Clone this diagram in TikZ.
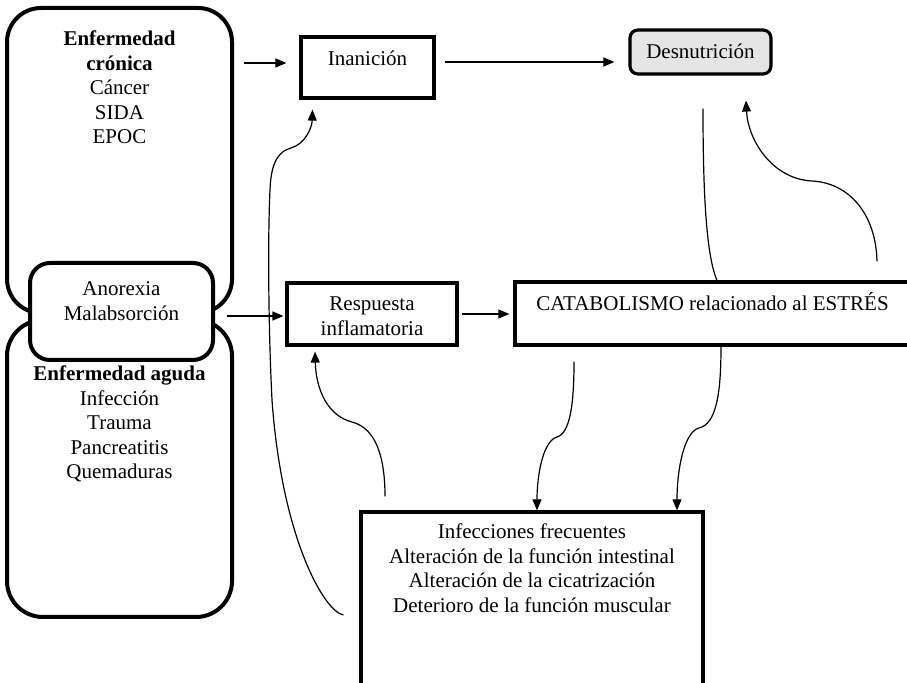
\documentclass[tikz,border=0pt]{standalone}
\usepackage{fontspec}
\setmainfont{Liberation Serif}
\usetikzlibrary{arrows.meta,calc}
\newcommand{\BoxText}[4]{\parbox[c][#2][t]{#1}{\centering\rule{0pt}{#3}#4}}

\begin{document}
\begin{tikzpicture}[x=0.5pt,y=-0.5pt]
      \tikzset{
      BoxStyle/.style = {draw, line width=1.6pt, inner sep=0pt, fill=white,
        font=\fontsize{10.5}{12.25}\selectfont},
      RoundStyle/.style = {BoxStyle, line width=2pt, rounded corners=#1},
      EdgeStyle/.style = {line width=0.6pt, -{Triangle[length=5.5pt,width=4.5pt]}} }
      \useasboundingbox (0,0) rectangle (907,683);
      \clip (0,0) rectangle (907,683);

      \node[RoundStyle=17pt] (cronica) at (119.5,160.5)
        {\BoxText{112.5pt}{152.5pt}{19pt}{\textbf{Enfermedad}\\ \textbf{crónica}\\ Cáncer\\ SIDA\\ EPOC}};
      \node[RoundStyle=18pt] (aguda) at (119.5,468.5)
        {\BoxText{112.5pt}{148.5pt}{30.5pt}{\textbf{Enfermedad aguda}\\ Infección\\ Trauma\\ Pancreatitis\\ Quemaduras}};
      \node[RoundStyle=10pt] (anorexia) at (121.5,311.5)
        {\BoxText{91.5pt}{48.5pt}{16.5pt}{Anorexia\\ Malabsorción}};

      \node[BoxStyle] (inan) at (367.5,67.5)
        {\BoxText{66.5pt}{30.5pt}{14.5pt}{Inanición}};
      \node[RoundStyle=4pt, line width=1.6pt, fill=gray!20] (desn) at (700.5,52)
        {\BoxText{70.5pt}{22pt}{14.5pt}{Desnutrición}};
      \node[BoxStyle] (resp) at (372,314)
        {\BoxText{85pt}{31pt}{14pt}{Respuesta\\ inflamatoria}};
      \node[BoxStyle] (cat) at (712.5,313.5)
        {\BoxText{197.5pt}{31.5pt}{14.5pt}{CATABOLISMO relacionado al ESTRÉS}};
      \node[BoxStyle] (bot) at (532,606)
        {\BoxText{171pt}{94pt}{13.5pt}{Infecciones frecuentes\\ Alteración de la función intestinal\\
          Alteración de la cicatrización\\ Deterioro de la función muscular}};

      \draw[EdgeStyle, shorten <=5pt, shorten >=6.5pt] ([yshift=2.25pt]inan.west -| cronica.east) -- ([yshift=2.25pt]inan.west);
      \draw[EdgeStyle, shorten <=4.5pt, shorten >=7pt] ([yshift=2.75pt]inan.east) -- ([yshift=2.75pt]inan.east -| desn.west);
      \draw[EdgeStyle, shorten <=6pt, shorten >=1pt] ([yshift=-1pt]resp.west -| anorexia.east) -- ([yshift=-1pt]resp.west);
      \draw[EdgeStyle, shorten <=1.5pt, shorten >=2pt] (resp.east) -- (resp.east -| cat.west);

      \draw[EdgeStyle] ($(bot.west)+(-16,9)$) .. controls (325,612) and (282,540) .. (272,400)
        .. controls (268,320) and (268,230) .. (270,190)
        .. controls (271,160) and (280,151) .. (291,148)
        .. controls (305,144) and (312,128) .. ($(inan.south)+(-55,10)$);
      \draw[EdgeStyle] ($(bot.north)+(-147,-14)$) .. controls (385,455) and (375,428) .. (352,422)
        .. controls (328,416) and (316,390) .. ($(resp.south)+(-57,5)$);

      \draw[EdgeStyle] ($(cat.south)+(-138.5,15)$) .. controls (574,405) and (570,433) .. (557,437)
        .. controls (543,441) and (537,475) .. ($(bot.north)+(5,0)$);
      \draw[EdgeStyle] ($(cat.south)+(8.5,0)$) .. controls (721,395) and (716,424) .. (699,428)
        .. controls (684,432) and (677,470) .. ($(bot.north)+(145,0)$);

      \draw[line width=0.6pt] ($(desn.south)+(2.5,33)$) .. controls (703,190) and (706,255) .. ($(cat.north)+(4.5,0)$);
      \draw[EdgeStyle] ($(cat.north)+(164.5,-19)$) .. controls (876,215) and (850,183) .. (812,181)
        .. controls (772,179) and (748,140) .. ($(desn.south)+(45.5,25)$);

    \end{tikzpicture}
\end{document}
